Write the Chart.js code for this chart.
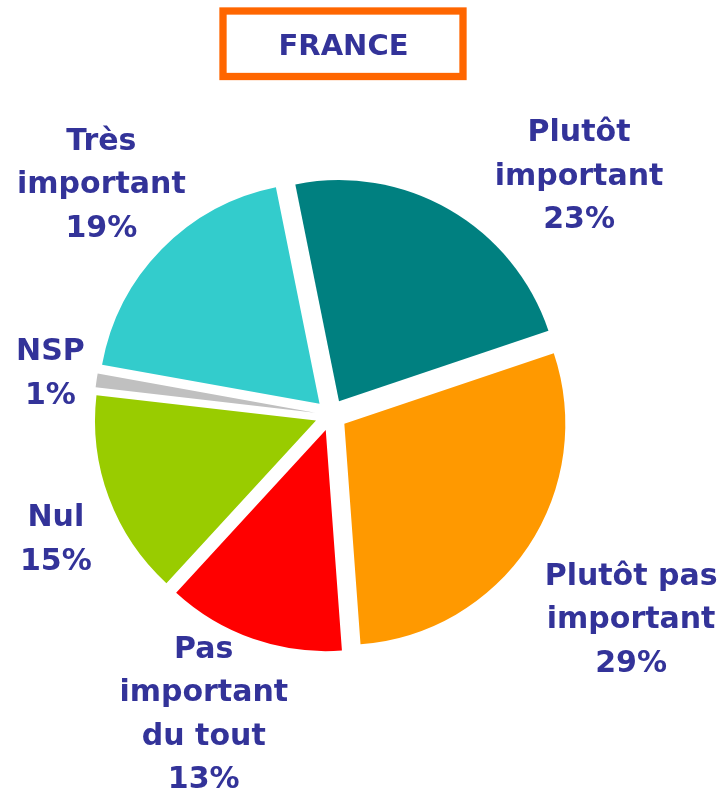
<!DOCTYPE html>
<html>
<head>
<meta charset="utf-8">
<script src="https://cdn.jsdelivr.net/npm/chart.js@4/dist/chart.umd.min.js"></script>
<style>
  html, body { margin: 0; padding: 0; background: #ffffff; }
  #wrap { position: relative; width: 723px; height: 796px; }
  canvas { display: block; }
</style>
</head>
<body>
<div id="wrap"><canvas id="c" width="723" height="796"></canvas></div>
<script>
// ---- data ----
const TITLE = "FRANCE";
const categories = [
  ["Plutôt", "important"],
  ["Plutôt pas", "important"],
  ["Pas", "important", "du tout"],
  ["Nul"],
  ["NSP"],
  ["Très", "important"]
];
const values = [23, 29, 13, 15, 1, 19];
const colors = ["#008080", "#FF9900", "#FF0000", "#99CC00", "#C0C0C0", "#33CCCC"];

// ---- layout / style ----
const TEXT_COLOR = "#333399";
const LABEL_FONT = "bold 30px 'DejaVu Sans', Verdana, sans-serif";
const LINE_H = 43.5;
const CAP_H = 22;
const EXPLODE = 16;     // px each slice is pulled out
const RADIUS = 221;
// label placement relative to each slice: angle tweak (deg) and distance from pie centre (px)
const LABEL_LAYOUT = [
  { da: 15.8, d: 346 },
  { da: 0.4,  d: 362 },
  { da: 4.0,  d: 323 },
  { da: -3.5, d: 301 },
  { da: 0.5,  d: 284 },
  { da: 1.0,  d: 327 }
];

const explodePlugin = {
  id: 'explode',
  afterDatasetsUpdate(chart) {
    const meta = chart.getDatasetMeta(0);
    meta.data.forEach(arc => {
      const mid = (arc.startAngle + arc.endAngle) / 2;
      arc.x += Math.cos(mid) * EXPLODE;
      arc.y += Math.sin(mid) * EXPLODE;
    });
  }
};

const labelPlugin = {
  id: 'sliceLabels',
  afterDatasetsDraw(chart) {
    const ctx = chart.ctx;
    const ca = chart.chartArea;
    const cx = (ca.left + ca.right) / 2;
    const cy = (ca.top + ca.bottom) / 2;
    const meta = chart.getDatasetMeta(0);
    ctx.save();
    ctx.font = LABEL_FONT;
    ctx.fillStyle = TEXT_COLOR;
    ctx.textAlign = 'center';
    ctx.textBaseline = 'alphabetic';
    meta.data.forEach((arc, i) => {
      const mid = (arc.startAngle + arc.endAngle) / 2 + LABEL_LAYOUT[i].da * Math.PI / 180;
      const x = cx + Math.cos(mid) * LABEL_LAYOUT[i].d;
      const y = cy + Math.sin(mid) * LABEL_LAYOUT[i].d;
      const lines = categories[i].concat([values[i] + '%']);
      const n = lines.length;
      const y0 = y - ((n - 1) * LINE_H - CAP_H) / 2;
      lines.forEach((t, k) => ctx.fillText(t, x, y0 + k * LINE_H));
    });
    ctx.restore();
  }
};

const titlePlugin = {
  id: 'boxTitle',
  afterDraw(chart) {
    const ctx = chart.ctx;
    ctx.save();
    ctx.strokeStyle = "#FF6600";
    ctx.lineWidth = 7.3;
    ctx.strokeRect(223, 11, 240, 65.5);
    ctx.fillStyle = TEXT_COLOR;
    ctx.font = "bold 29px 'DejaVu Sans', Verdana, sans-serif";
    ctx.textAlign = 'center';
    ctx.textBaseline = 'alphabetic';
    ctx.fillText(TITLE, 343.5, 55);
    ctx.restore();
  }
};

new Chart(document.getElementById('c'), {
  type: 'pie',
  data: {
    labels: categories,
    datasets: [{
      data: values,
      backgroundColor: colors,
      borderWidth: 0
    }]
  },
  options: {
    responsive: false,
    animation: false,
    rotation: -11.4,
    radius: RADIUS,
    layout: { padding: { left: 0, top: 34, right: 61, bottom: 0 } },
    plugins: {
      legend: { display: false },
      title: { display: false },
      tooltip: { enabled: false }
    },
    events: []
  },
  plugins: [explodePlugin, labelPlugin, titlePlugin]
});
</script>
</body>
</html>
